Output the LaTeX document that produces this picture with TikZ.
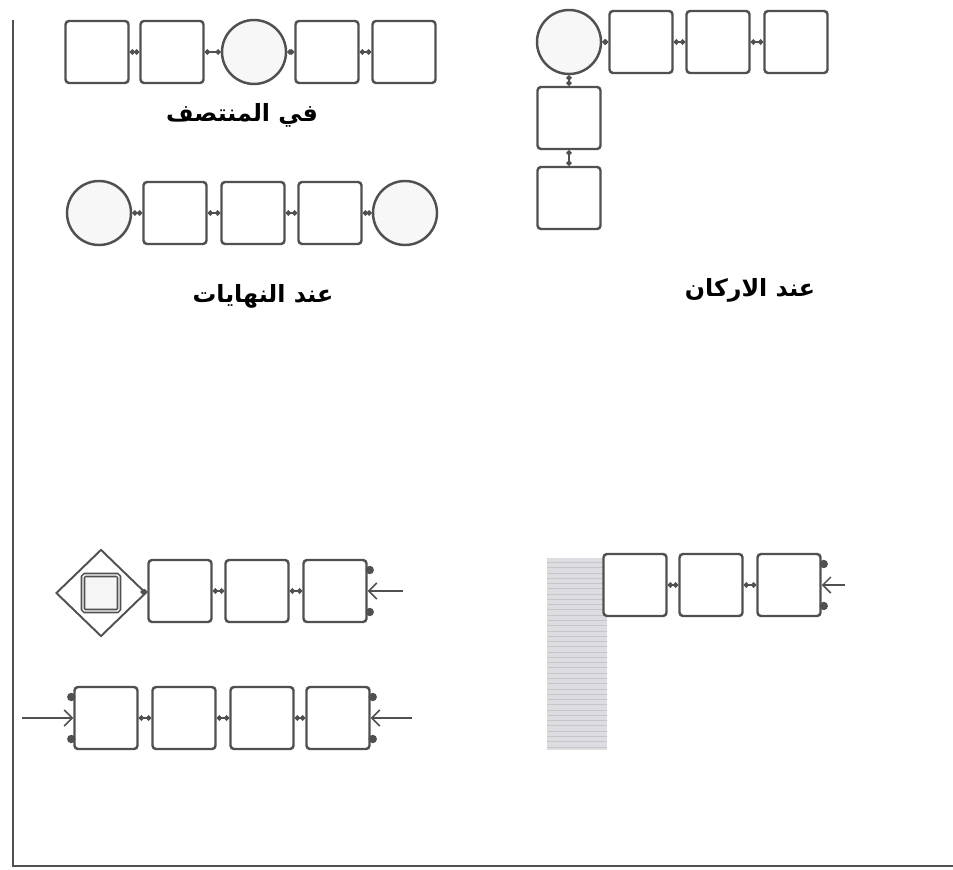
\documentclass[tikz,border=0pt]{standalone}
\usepackage{fontspec}
\usepackage{tikz}
\usetikzlibrary{arrows.meta,shapes.geometric,patterns}
\newfontfamily\arabicfont[Script=Arabic]{DejaVu Sans}
\TeXXeTstate=1
\definecolor{inkgray}{HTML}{505050}
\definecolor{shadegray}{HTML}{DCDCE2}
\tikzset{
  cell/.style={draw=inkgray, line width=1.4pt, rounded corners=2pt, fill=white, minimum width=12.6mm, minimum height=12.4mm, inner sep=0pt},
  hub/.style={draw=inkgray, line width=1.4pt, circle, fill=gray!6, minimum size=12.8mm, inner sep=0pt},
  gate/.style={draw=inkgray, line width=1.1pt, diamond, fill=white, minimum width=18mm, minimum height=17.4mm, inner sep=0pt},
  core/.style={draw=inkgray, double=white, double distance=0.8pt, line width=0.9pt, rounded corners=1pt, minimum size=7.2mm, inner sep=0pt, fill=gray!8},
  link/.style={draw=inkgray, line width=1.2pt, {Circle[length=3pt]}-{Circle[length=3pt]}},
  feed/.style={draw=inkgray, line width=0.9pt, -{Straight Barb[length=1.6mm]}},
  axis/.style={draw=inkgray, line width=1.3pt},
  caption/.style={font=\arabicfont\bfseries\fontsize{13.5}{15}\selectfont},
  ports/.pic={\fill[inkgray] (2,-21) circle (2.4pt); \fill[inkgray] (2,21) circle (2.4pt);}
}

\begin{document}
\begin{tikzpicture}[x=0.2mm, y=-0.2mm]
  \useasboundingbox (0,0) rectangle (953,869);

  \coordinate (axtop) at (13,20);
  \coordinate (axcorner) at (13,866);
  \coordinate (axright) at (953,866);
  \draw[axis] (axtop) -- (axcorner) -- (axright);

  \node[cell] (m1) at (97,52) {};
  \node[cell] (m2) at (172,52) {};
  \node[hub] (m3) at (254,52) {};
  \node[cell] (m4) at (327,52) {};
  \node[cell] (m5) at (404,52) {};
  \node[caption] (midtext) at (242,115) {\beginR في المنتصف\endR};

  \node[hub] (e1) at (99,213) {};
  \node[cell] (e2) at (175,213) {};
  \node[cell] (e3) at (253,213) {};
  \node[cell] (e4) at (330,213) {};
  \node[hub] (e5) at (405,213) {};
  \node[caption] (endtext) at (263,296) {\beginR عند النهايات\endR};

  \node[hub] (c0) at (569,42) {};
  \node[cell] (c1) at (641,42) {};
  \node[cell] (c2) at (718,42) {};
  \node[cell] (c3) at (796,42) {};
  \node[cell] (v1) at (569,118) {};
  \node[cell] (v2) at (569,198) {};
  \node[caption] (cornertext) at (750,290) {\beginR عند الاركان\endR};

  \node[gate] (gt) at (101,593) {};
  \node[core] (gtcore) at (gt) {};
  \node[cell] (a1) at (180,591) {};
  \node[cell] (a2) at (257,591) {};
  \node[cell] (a3) at (335,591) {};
  \coordinate (ain) at (403,591);

  \node[cell] (b1) at (106,718) {};
  \node[cell] (b2) at (184,718) {};
  \node[cell] (b3) at (262,718) {};
  \node[cell] (b4) at (338,718) {};
  \coordinate (bleft) at (22,718);
  \coordinate (bright) at (412,718);

  \fill[shadegray] (547,558) rectangle (607,750);
  \fill[pattern=horizontal lines, pattern color=gray!45] (547,558) rectangle (607,750);
  \node[cell] (w1) at (635,585) {};
  \node[cell] (w2) at (711,585) {};
  \node[cell] (w3) at (789,585) {};
  \coordinate (win) at (845,585);

  \draw[link] (m1) -- (m2);
  \draw[link] (m2) -- (m3);
  \draw[link] (m3) -- (m4);
  \draw[link] (m4) -- (m5);

  \draw[link] (e1) -- (e2);
  \draw[link] (e2) -- (e3);
  \draw[link] (e3) -- (e4);
  \draw[link] (e4) -- (e5);

  \draw[link] (c0) -- (c1);
  \draw[link] (c1) -- (c2);
  \draw[link] (c2) -- (c3);
  \draw[link] (c0) -- (v1);
  \draw[link] (v1) -- (v2);

  \draw[link] (gt) -- (a1);
  \draw[link] (a1) -- (a2);
  \draw[link] (a2) -- (a3);
  \pic at (a3.east) {ports};
  \draw[feed] (ain) -- (a3.east);

  \draw[link] (b1) -- (b2);
  \draw[link] (b2) -- (b3);
  \draw[link] (b3) -- (b4);
  \pic[xscale=-1] at (b1.west) {ports};
  \pic at (b4.east) {ports};
  \draw[feed] (bleft) -- (b1.west);
  \draw[feed] (bright) -- (b4.east);

  \draw[link] (w1) -- (w2);
  \draw[link] (w2) -- (w3);
  \pic at (w3.east) {ports};
  \draw[feed] (win) -- (w3.east);
\end{tikzpicture}
\end{document}
